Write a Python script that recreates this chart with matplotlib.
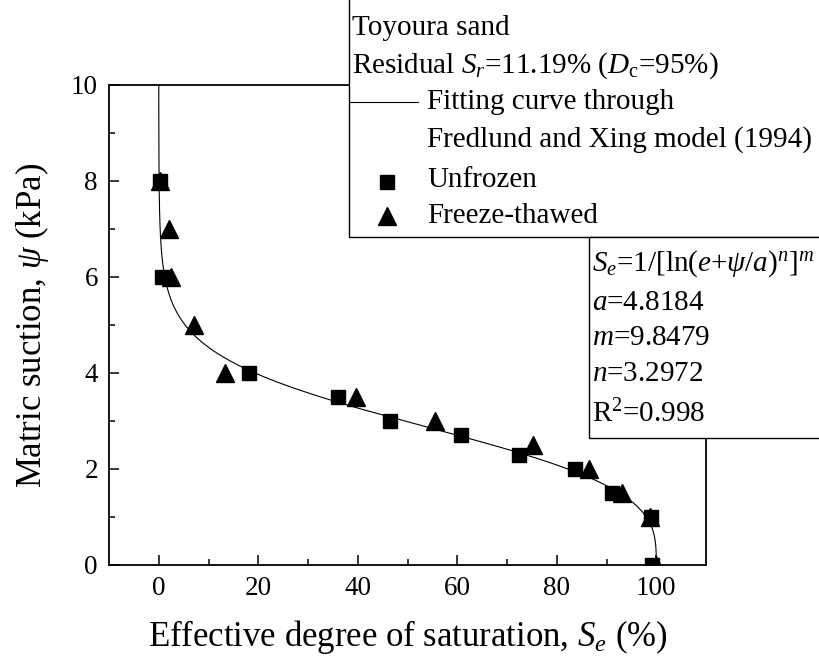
import numpy as np
import matplotlib
matplotlib.use("Agg")
import matplotlib.pyplot as plt
from matplotlib.patches import Rectangle
from matplotlib.lines import Line2D

plt.rcParams["font.family"] = ["Liberation Serif", "DejaVu Serif"]
plt.rcParams["mathtext.fontset"] = "custom"
plt.rcParams["mathtext.rm"] = "Liberation Serif"
plt.rcParams["mathtext.it"] = "Liberation Serif:italic"
plt.rcParams["mathtext.bf"] = "Liberation Serif:bold"

# measured points (effective saturation %, suction kPa)
unfrozen_se = [0.2, 0.6, 18.1, 36.0, 46.4, 60.8, 72.5, 83.7, 91.2, 98.9, 99.2]
unfrozen_psi = [8.0, 6.0, 4.0, 3.5, 3.0, 2.7, 2.3, 2.0, 1.5, 1.0, 0.0]
thawed_se = [0.3, 2.0, 2.5, 7.0, 13.3, 39.6, 55.6, 75.3, 86.5, 93.2, 98.7, 100.0]
thawed_psi = [8.0, 7.0, 6.0, 5.0, 4.0, 3.5, 3.0, 2.5, 2.0, 1.5, 1.0, 0.0]

# Fredlund & Xing fit parameters
fx_a = 4.8184
fx_m = 9.8479
fx_n = 3.2972

W, H = 819, 659
SQ_MS = 9.5
TRI_MS = 12.5


def fx(px, py):
    """pixel position (origin top-left) -> figure fraction"""
    return px / W, 1 - py / H


fig = plt.figure(figsize=(W / 100, H / 100), dpi=100)
l, b = fx(109, 565)
r, t = fx(706, 85)
ax = fig.add_axes([l, b, r - l, t - b])

psi = np.linspace(0, 10, 600)
se = 100.0 / np.log(np.e + (psi / fx_a) ** fx_n) ** fx_m
ax.plot(se, psi, color="black", lw=0.8, zorder=2)
ax.plot(unfrozen_se, unfrozen_psi, ls="none", marker="s", ms=SQ_MS, color="black", zorder=3)
ax.plot(thawed_se, thawed_psi, ls="none", marker="^", ms=TRI_MS, color="black", zorder=3)

ax.set_xlim(-10, 110)
ax.set_ylim(0, 10)
ax.set_xticks([0, 20, 40, 60, 80, 100])
ax.set_xticks([10, 30, 50, 70, 90], minor=True)
ax.set_yticks([0, 2, 4, 6, 8, 10])
ax.set_yticks([1, 3, 5, 7, 9], minor=True)
ax.tick_params(which="both", direction="in", top=False, right=False, labelsize=19.5, width=1.1)
ax.tick_params(which="major", length=7, pad=8)
ax.tick_params(which="minor", length=4)
for s in ax.spines.values():
    s.set_linewidth(1.3)

ax.set_xlabel("Effective degree of saturation, $S_e$ (%)", fontsize=25, labelpad=12)
ax.set_ylabel("Matric suction, $\\psi$ (kPa)", fontsize=25, labelpad=14)

# legend box (runs off the top/right edge)
x0, y0 = fx(349, 237)
fig.add_artist(Rectangle((x0, y0), 1, 1, transform=fig.transFigure, facecolor="white",
                         edgecolor="black", lw=1.0, zorder=5))
# equation box
x1, y1 = fx(589, 438)
x1t, y1t = fx(589, 237)
fig.add_artist(Rectangle((x1, y1), 1, y1t - y1, transform=fig.transFigure, facecolor="white",
                         edgecolor="black", lw=1.0, zorder=5))

fs = 21
legend_rows = [
    (352, 28, "Toyoura sand"),
    (352, 66, "Residual $S_r$=11.19% ($D_\\mathrm{c}$=95%)"),
    (427, 102, "Fitting curve through"),
    (427, 140, "Fredlund and Xing model (1994)"),
    (427, 180, "Unfrozen"),
    (427, 216, "Freeze-thawed"),
]
for px, py, txt in legend_rows:
    fig.text(*fx(px, py), txt, fontsize=fs, va="center", ha="left", zorder=6)

lx0, ly = fx(349, 102)
lx1, _ = fx(418, 102)
fig.add_artist(Line2D([lx0, lx1], [ly, ly], transform=fig.transFigure, color="black", lw=0.8, zorder=6))
fig.add_artist(Line2D([fx(387, 0)[0]], [fx(0, 182)[1]], transform=fig.transFigure, ls="none",
                      marker="s", ms=SQ_MS, color="black", zorder=6))
fig.add_artist(Line2D([fx(387, 0)[0]], [fx(0, 216)[1]], transform=fig.transFigure, ls="none",
                      marker="^", ms=TRI_MS, color="black", zorder=6))

eq_rows = [
    (592, 264, "$S_e$=1/[ln($e$+$\\psi/a)^n]^m$"),
    (592, 303, "$a$=4.8184"),
    (592, 338, "$m$=9.8479"),
    (592, 374, "$n$=3.2972"),
    (592, 414, "R$^2$=0.998"),
]
for px, py, txt in eq_rows:
    fig.text(*fx(px, py), txt, fontsize=fs, va="center", ha="left", zorder=6)

fig.savefig("out.png", dpi=100)
